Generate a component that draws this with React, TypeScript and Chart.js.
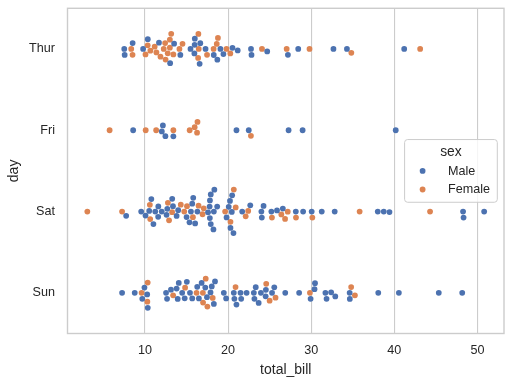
import React, { useEffect, useRef } from "react";
import { Chart, registerables } from "chart.js";
Chart.register(...registerables);

// ---- data (tips: total_bill by day, with sex M/F in row order) ----
const days = ["Thur", "Fri", "Sat", "Sun"];
const sexLabels = ["Male", "Female"];
const xTicks = [10, 20, 30, 40, 50];

const thurBill = [27.2, 22.76, 17.29, 19.44, 16.66, 10.07, 32.68, 15.98, 34.83, 13.03, 18.28, 24.71, 21.16,
  10.65, 12.43, 24.08, 11.69, 13.42, 14.26, 15.95, 12.48, 29.8, 8.52, 14.52, 11.38, 22.82, 19.08, 20.27, 11.17,
  12.26, 18.26, 8.51, 10.33, 14.15, 16.0, 13.16, 17.47, 34.3, 41.19, 27.05, 16.43, 8.35, 18.64, 11.87, 9.78, 7.51,
  19.81, 28.44, 15.48, 16.58, 7.56, 10.34, 43.11, 13.0, 13.51, 18.71, 12.74, 13.0, 16.4, 20.53, 16.47, 18.78];
const thurSex = "MMMMMFMMFMMMM" + "FFFMFMMFFMFFMMFFFFFFFMFFMMFFFFFMM" + "FMMMMMFFMMFFFMF" + "F";

const friBill = [28.97, 22.49, 5.75, 16.32, 22.75, 40.17, 27.28, 12.03, 21.01, 12.46, 11.35, 15.38,
  12.16, 13.42, 8.58, 15.98, 13.42, 16.27, 10.09];
const friSex = "MMFFFMMMMMFF" + "MFMFMFF";

const satBill = [20.65, 17.92, 20.29, 15.77, 39.42, 19.82, 17.81, 13.37, 12.69, 21.7, 19.65, 9.55, 18.35, 15.06,
  20.69, 17.78, 24.06, 16.31, 16.93, 18.69, 31.27, 16.04,
  38.01, 26.41, 11.24, 48.27, 20.29, 13.81, 11.02, 18.29, 17.59, 20.08, 16.45, 3.07, 20.23, 15.01, 12.02, 17.07,
  26.86, 25.28, 14.73, 10.51, 17.92,
  44.3, 22.42, 20.92, 15.36, 20.49, 25.21, 18.24, 14.31, 14.0, 7.25,
  10.59, 10.63, 50.81, 15.81,
  26.59, 38.73, 24.27, 12.76, 30.06, 25.89, 48.33, 13.27, 28.17, 12.9, 28.15, 11.59, 7.74, 30.14,
  20.45, 13.28, 22.12, 24.01, 15.69, 11.61, 10.77, 15.53, 10.07, 12.6, 32.83, 35.83, 29.03, 27.18, 22.67, 17.82];
const satSex = "MMFFMMMMMMFMMFFMMMFMMM" + "MFMMMMMMMMFFMMMFFFFMM" + "FFFMMMMFMF" + "FFMM" +
  "MMMFMMMFFFMMMF" + "MMFMMMMMMMMFMFMM";

const sunBill = [16.99, 10.34, 21.01, 23.68, 24.59, 25.29, 8.77, 26.88, 15.04, 14.78, 10.27, 35.26, 15.42, 18.43,
  14.83, 21.58, 10.33, 16.29, 16.97,
  17.46, 13.94, 9.68, 30.4, 18.29, 22.23, 32.4, 28.55, 18.04, 12.54, 10.29, 34.81, 9.94, 25.56, 19.49,
  38.07, 23.95, 25.71, 17.31, 29.93,
  14.07, 13.13, 17.26, 24.55, 19.77, 29.85, 48.17, 25.0, 13.39, 16.49, 21.5, 12.66, 16.21, 13.81, 17.51, 24.52,
  20.76, 31.71,
  7.25, 31.85, 16.82, 32.9, 17.89, 14.48, 9.6, 34.63, 34.65, 23.33, 45.35, 23.17, 40.55, 20.69, 20.9, 30.46,
  18.15, 23.1, 15.69];
const sunSex = "FMMMFMMMMMMFMMFMFMF" + "MMMMMMMMMMFFMMM" + "MMFFM" + "MMMMMFMFFMMMFMFMMM" + "MMMMMMFMMMMMMMFMFMM";

const dayBills = [thurBill, friBill, satBill, sunBill];
const daySexes = [thurSex, friSex, satSex, sunSex];

const COLORS = ["#4C72B0", "#DD8452"];
const TEXT = "#262626";
const GRID = "#cccccc";
const FONT = "'Liberation Sans', Arial, sans-serif";
const R = 2.88;

type Pt = { x: number; y: number };

// seaborn-style beeswarm on [cat, val, r] in display-up coords
function beeswarm(orig: number[][]): number[][] {
  const midline = orig[0][0];
  const swarm: number[][] = [orig[0]];
  for (let k = 1; k < orig.length; k++) {
    const p = orig[k];
    const yi = p[1], ri = p[2];
    const neighbors: number[][] = [];
    for (let j = swarm.length - 1; j >= 0; j--) {
      const q = swarm[j];
      if (yi - q[1] < ri + q[2]) neighbors.push(q);
      else break;
    }
    const cands: number[][] = [p];
    let leftFirst = true;
    for (const q of neighbors) {
      const dy = yi - q[1];
      const dx = Math.sqrt(Math.max((ri + q[2]) ** 2 - dy * dy, 0)) * 1.05;
      const cl = [q[0] - dx, yi, ri];
      const cr = [q[0] + dx, yi, ri];
      if (leftFirst) cands.push(cl, cr);
      else cands.push(cr, cl);
      leftFirst = !leftFirst;
    }
    const sorted = cands
      .map((c, i) => ({ c, i, o: Math.abs(c[0] - midline) }))
      .sort((a, b) => a.o - b.o || a.i - b.i)
      .map((e) => e.c);
    let chosen = sorted[0];
    if (neighbors.length) {
      for (const c of sorted) {
        let ok = true;
        for (const q of neighbors) {
          const ddx = q[0] - c[0], ddy = q[1] - c[1];
          if (ddx * ddx + ddy * ddy < (q[2] + c[2]) ** 2) { ok = false; break; }
        }
        if (ok) { chosen = c; break; }
      }
    }
    swarm.push(chosen);
  }
  return swarm;
}

function buildPoints(chart?: Chart): Pt[][] {
  const out: Pt[][] = [[], []];
  dayBills.forEach((bills, d) => {
    const sx = daySexes[d];
    if (!chart) {
      bills.forEach((b, i) => out[sx[i] === "M" ? 0 : 1].push({ x: b, y: d }));
      return;
    }
    const xs = chart.scales.x, ys = chart.scales.y;
    const cy = ys.getPixelForValue(d);
    const rows = bills.map((b, i) => ({ i, v: xs.getPixelForValue(b) }));
    rows.sort((a, b) => a.v - b.v);
    const res = beeswarm(rows.map((r) => [-cy, r.v, R]));
    const pxPerCat = Math.abs(ys.getPixelForValue(1) - ys.getPixelForValue(0));
    rows.forEach((r, k) => {
      let off = (-res[k][0] - cy) / pxPerCat;
      off = Math.max(-0.4, Math.min(0.4, off));
      out[sx[r.i] === "M" ? 0 : 1].push({ x: bills[r.i], y: d + off });
    });
  });
  return out;
}

const framePlugin = {
  id: "frameLegend",
  afterDatasetsDraw(chart: any) {
    const { ctx, chartArea: a } = chart;
    ctx.save();
    ctx.strokeStyle = GRID;
    ctx.lineWidth = 1.4;
    ctx.strokeRect(a.left, a.top, a.right - a.left, a.bottom - a.top);
    ctx.restore();
  },
  afterDraw(chart: any) {
    const { ctx, chartArea: a } = chart;
    ctx.save();
    ctx.font = `12.6px ${FONT}`;
    const tw = Math.max(...sexLabels.map((s) => ctx.measureText(s).width));
    const w = 43.4 + tw + 7.3;
    const h = 62.7;
    const right = a.right - 6.7;
    const left = right - w;
    const cyy = (a.top + a.bottom) / 2;
    const top = cyy - h / 2;
    const rr = 3;
    ctx.beginPath();
    ctx.moveTo(left + rr, top);
    ctx.arcTo(left + w, top, left + w, top + h, rr);
    ctx.arcTo(left + w, top + h, left, top + h, rr);
    ctx.arcTo(left, top + h, left, top, rr);
    ctx.arcTo(left, top, left + w, top, rr);
    ctx.closePath();
    ctx.fillStyle = "rgba(255,255,255,0.8)";
    ctx.fill();
    ctx.strokeStyle = GRID;
    ctx.lineWidth = 1;
    ctx.stroke();
    ctx.fillStyle = TEXT;
    ctx.textBaseline = "middle";
    ctx.textAlign = "center";
    ctx.font = `13.8px ${FONT}`;
    ctx.fillText("sex", left + w / 2, cyy - 19);
    ctx.textAlign = "left";
    ctx.font = `12.6px ${FONT}`;
    sexLabels.forEach((s, i) => {
      const yy = cyy + i * 18.6;
      ctx.beginPath();
      ctx.arc(left + 18, yy, R, 0, Math.PI * 2);
      ctx.fillStyle = COLORS[i];
      ctx.fill();
      ctx.fillStyle = TEXT;
      ctx.fillText(s, left + 43.4, yy + 0.5);
    });
    ctx.restore();
  },
};

export default function App() {
  const ref = useRef<HTMLCanvasElement>(null);
  useEffect(() => {
    if (!ref.current) return;
    const init = buildPoints();
    const chart = new Chart(ref.current, {
      type: "scatter",
      data: {
        datasets: sexLabels.map((s, i) => ({
          label: s,
          data: init[i],
          backgroundColor: COLORS[i],
          borderWidth: 0,
          pointRadius: R,
          pointHoverRadius: R,
        })),
      },
      options: {
        animation: false,
        responsive: false,
        devicePixelRatio: 1,
        events: [],
        layout: { padding: { top: 8.3, right: 8, left: 0, bottom: 0 } },
        plugins: { legend: { display: false }, tooltip: { enabled: false } },
        scales: {
          x: {
            type: "linear",
            min: 0.683,
            max: 53.197,
            afterBuildTicks: (s: any) => { s.ticks = xTicks.map((v) => ({ value: v })); },
            afterFit: (s: any) => { s.height = 51.5; s.paddingLeft = 0; s.paddingRight = 0; },
            grid: { color: GRID, lineWidth: 1.1, drawTicks: false },
            border: { display: false },
            ticks: { color: TEXT, font: { family: FONT, size: 12.6 }, padding: 9, callback: (v: any) => String(v) },
            title: { display: true, text: "total_bill", color: TEXT, font: { family: FONT, size: 14 }, padding: { bottom: 6.5, top: 0 } },
          },
          y: {
            type: "linear",
            min: -0.5,
            max: 3.5,
            reverse: true,
            afterBuildTicks: (s: any) => { s.ticks = days.map((_, i) => ({ value: i })); },
            afterFit: (s: any) => { s.width = 67.5; s.paddingTop = 0; s.paddingBottom = 0; },
            grid: { display: false, drawTicks: false },
            border: { display: false },
            ticks: { color: TEXT, font: { family: FONT, size: 12.6 }, padding: 12.5, callback: (v: any) => days[v] ?? "" },
            title: { display: true, text: "day", color: TEXT, font: { family: FONT, size: 14 }, padding: { top: 6, bottom: 0 } },
          },
        },
      },
      plugins: [framePlugin],
    } as any);
    const pts = buildPoints(chart);
    chart.data.datasets.forEach((ds: any, i: number) => { ds.data = pts[i]; });
    chart.update();
    return () => chart.destroy();
  }, []);
  return (
    <div style={{ position: "absolute", left: 0, top: 0, width: 512, height: 385, background: "#fff" }}>
      <canvas ref={ref} width={512} height={385} />
    </div>
  );
}
